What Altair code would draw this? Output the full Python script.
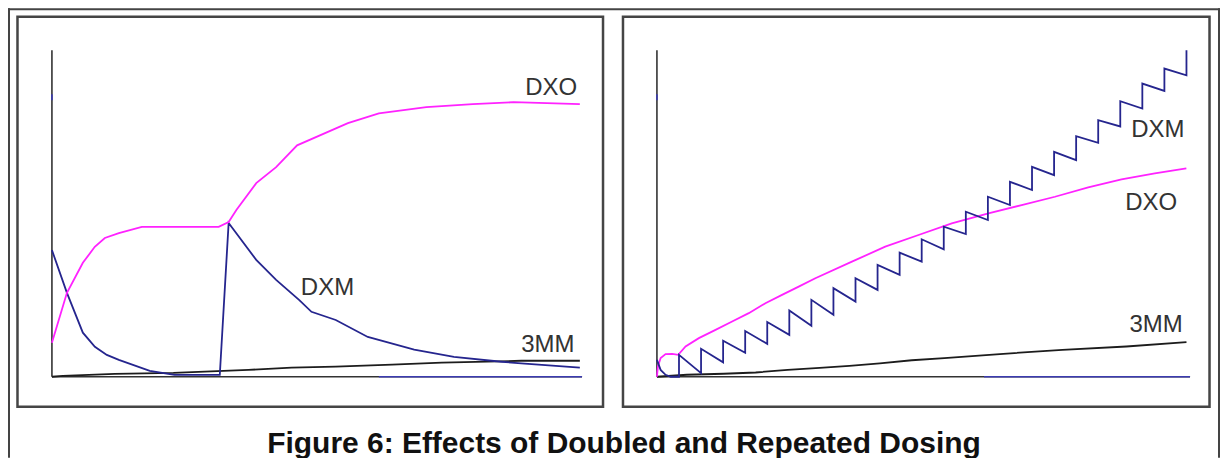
import altair as alt
import pandas as pd

# ---------------- data (time in hours, concentration in relative units) -------------
# Panel 1: doubled dose
p1_dxo_t = [0, 1.36, 2.80, 3.88, 4.79, 6.06, 8.14, 15.1, 16.0, 16.7, 18.5, 20.3, 22.2, 26.8, 29.6, 33.9, 38.1, 41.8, 47.8]
p1_dxo_c = [10.4, 25.7, 34.9, 39.8, 42.5, 44.0, 45.9, 45.9, 47.4, 51.1, 59.3, 64.2, 70.9, 77.7, 80.7, 82.6, 83.5, 84.1, 83.5]

p1_dxm_t = [0, 1.36, 2.80, 3.89, 4.97, 6.06, 8.86, 11.1, 15.2, 16.0, 18.5, 20.3, 22.4, 23.5, 25.7, 28.6, 32.8, 36.4, 40.7, 42.8, 47.8]
p1_dxm_c = [38.8, 25.7, 13.5, 9.2, 6.7, 5.2, 1.8, 0.6, 0.6, 47.1, 35.8, 29.7, 23.5, 19.9, 17.4, 12.2, 8.3, 6.1, 4.6, 4.0, 2.8]

p1_3mm_t = [0, 0.99, 5.7, 11.0, 17.8, 21.7, 25.7, 30.8, 35.3, 42.5, 47.8]
p1_3mm_c = [0, 0.3, 0.9, 1.2, 2.1, 2.8, 3.1, 3.7, 4.3, 4.9, 4.9]

# Panel 2: repeated dosing
p2_dxm_start_t = [0, 0.67, 1.57, 2.5]
p2_dxm_start_c = [5.2, 2.1, 0.6, 0]
p2_dose_t = [4, 8, 12, 16, 20, 24, 28, 32, 36, 40, 44, 48,
             52, 56, 60, 64, 68, 72, 76, 80, 84, 88, 92, 96]
p2_dxm_trough = [0, 1.13, 4.43, 7.34, 10.09, 12.84, 15.60, 18.96, 23.03, 26.61, 31.19, 35.26,
                 39.05, 43.73, 48.01, 52.60, 57.19, 61.77, 66.36, 71.65, 76.67, 82.17, 87.55, 92.35]
p2_dxm_peak = [6.73, 8.56, 11.01, 14.01, 16.76, 20.28, 23.55, 27.13, 30.18, 34.25, 38.01, 42.11,
               45.96, 50.55, 55.14, 59.72, 64.31, 68.90, 73.70, 78.59, 84.40, 89.82, 94.40, 100.0]

p2_dxo_t = [0, 0.18, 0.67, 1.57, 2.77, 3.86, 5.19, 7.60, 10.62, 13.63, 16.65, 19.67, 22.68, 25.70,
            28.72, 35.35, 41.39, 47.42, 53.45, 60.09, 66.12, 72.16, 78.19, 84.22, 90.26, 95.98]
p2_dxo_c = [0, 3.15, 5.72, 6.94, 7.03, 6.73, 9.27, 11.83, 14.37, 16.91, 19.48, 22.54, 25.08, 27.61,
            30.18, 35.26, 39.85, 43.43, 47.00, 50.06, 52.60, 55.14, 58.01, 60.46, 62.29, 63.82]

p2_3mm_t = [0, 5.43, 12.1, 17.9, 23.7, 29.5, 34.9, 40.4, 46.2, 52.1, 62.8, 73.5, 85.1, 96.0]
p2_3mm_c = [0, 0.61, 0.92, 1.31, 2.14, 2.75, 3.36, 4.13, 5.06, 5.72, 7.03, 8.26, 9.27, 10.61]

labels = ["DXO", "DXM", "3MM"]
caption = "Figure 6: Effects of Doubled and Repeated Dosing"

# ---------------- layout / style -----------------
W, H = 1214, 450
C_DXO, C_DXM, C_3MM = "#ff22ff", "#25258e", "#1c1c1c"
C_AXIS, C_ZERO, C_BOX = "#333333", "#3b3bb0", "#454545"
FONT = "Liberation Sans"

T1_MAX, T2_MAX = 48, 96.65
X1 = alt.Scale(domain=[0, T1_MAX], range=[44, 575], nice=False, zero=False)
X2 = alt.Scale(domain=[0, T2_MAX], range=[650, 1184], nice=False, zero=False)
YS = alt.Scale(domain=[0, 100], range=[369, 42], nice=False, zero=False)

# label anchor positions (t, c) in each panel's units
p1_label_pos = [(45.2, 86.2), (24.95, 25.1), (44.9, 7.6)]
p2_label_pos = [(89.6, 51.1), (90.8, 73.5), (90.5, 13.8)]


def line(t, c, color, xs, width=1.8):
    df = pd.DataFrame({"t": t, "c": c, "i": list(range(len(t)))})
    return alt.Chart(df).mark_line(color=color, strokeWidth=width).encode(
        x=alt.X("t:Q", scale=xs, axis=None),
        y=alt.Y("c:Q", scale=YS, axis=None),
        order=alt.Order("i:Q"),
    )


def segs(rows, color, xs, width):
    df = pd.DataFrame(rows, columns=["t", "c", "t2", "c2"])
    return alt.Chart(df).mark_rule(color=color, strokeWidth=width).encode(
        x=alt.X("t:Q", scale=xs, axis=None), x2="t2:Q",
        y=alt.Y("c:Q", scale=YS, axis=None), y2="c2:Q",
    )


def texts(pos, xs):
    df = pd.DataFrame({"t": [p[0] for p in pos], "c": [p[1] for p in pos], "label": labels})
    return alt.Chart(df).mark_text(font=FONT, fontSize=24, color="#333333",
                                   align="center", baseline="alphabetic").encode(
        x=alt.X("t:Q", scale=xs, axis=None),
        y=alt.Y("c:Q", scale=YS, axis=None),
        text="label:N",
    )


# panel 2 DXM sawtooth table built from the arrays
p2_dxm_t = list(p2_dxm_start_t)
p2_dxm_c = list(p2_dxm_start_c)
for t, lo, hi in zip(p2_dose_t, p2_dxm_trough, p2_dxm_peak):
    p2_dxm_t += [t, t]
    p2_dxm_c += [lo, hi]

one = pd.DataFrame({"k": [0]})

def box(x1, x2, y1, y2, color, width):
    return alt.Chart(one).mark_rect(fillOpacity=0, stroke=color, strokeWidth=width).encode(
        x=alt.value(x1), x2=alt.value(x2), y=alt.value(y1), y2=alt.value(y2))

def vrule(x, y1, y2, color, width):
    return alt.Chart(one).mark_rule(color=color, strokeWidth=width).encode(
        x=alt.value(x), y=alt.value(y1), y2=alt.value(y2))

def hrule(y, x1, x2, color, width):
    return alt.Chart(one).mark_rule(color=color, strokeWidth=width).encode(
        y=alt.value(y), x=alt.value(x1), x2=alt.value(x2))

frame = [
    hrule(1, 0, W, "#444444", 2),
    vrule(1, 0, H, "#444444", 2),
    vrule(W - 1, 0, H, "#444444", 2),
    box(9.5, 596, 8.5, 399, C_BOX, 2.5),
    box(616, 1203.5, 8.5, 399, C_BOX, 2.5),
]

panel1 = [
    segs([(0, 0, T1_MAX, 0), (0, 0, 0, 100)], C_AXIS, X1, 1.6),
    segs([(29.6, 0, T1_MAX, 0), (0, 84.7, 0, 86.5)], C_ZERO, X1, 1.6),
    line(p1_3mm_t, p1_3mm_c, C_3MM, X1),
    line(p1_dxm_t, p1_dxm_c, C_DXM, X1),
    line(p1_dxo_t, p1_dxo_c, C_DXO, X1),
    texts(p1_label_pos, X1),
]

panel2 = [
    segs([(0, 0, T2_MAX, 0), (0, 0, 0, 100)], C_AXIS, X2, 1.6),
    segs([(59.3, 0, T2_MAX, 0), (0, 84.7, 0, 86.5)], C_ZERO, X2, 1.6),
    line(p2_3mm_t, p2_3mm_c, C_3MM, X2),
    line(p2_dxo_t, p2_dxo_c, C_DXO, X2),
    line(p2_dxm_t, p2_dxm_c, C_DXM, X2),
    texts(p2_label_pos, X2),
]

cap = alt.Chart(pd.DataFrame({"text": [caption]})).mark_text(
    font=FONT, fontSize=30, fontWeight="bold", color="#111111",
    align="center", baseline="alphabetic").encode(
    x=alt.value(617), y=alt.value(445), text="text:N")

chart = alt.layer(*frame, *panel1, *panel2, cap).resolve_scale(
    x="independent", y="independent"
).properties(
    width=W, height=H, padding=0, autosize=alt.AutoSizeParams(type="none"),
    background="white",
).configure_view(stroke=None)

chart.save("out.html", embed_options={"renderer": "svg", "actions": False})
